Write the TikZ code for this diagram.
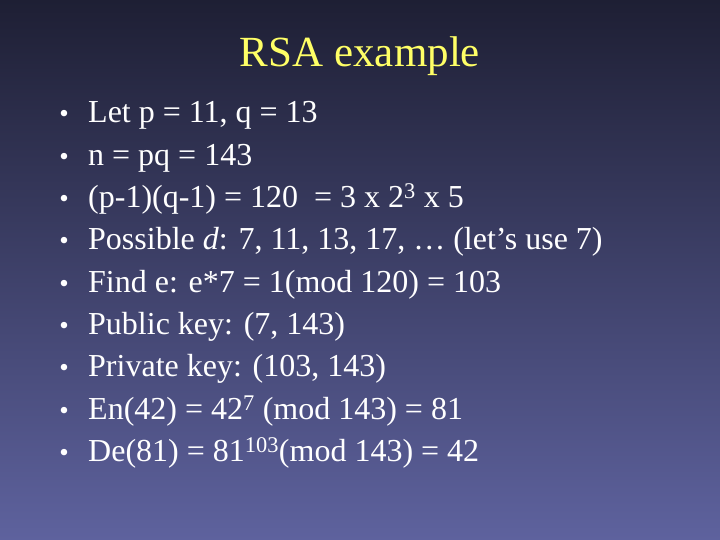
\documentclass[tikz,border=0pt]{standalone}
\usepackage{fontspec}
\setmainfont{Liberation Serif}
\begin{document}
\begin{tikzpicture}[x=1pt,y=-1pt,
  item/.style={anchor=base west,text=white,font=\fontsize{32}{34}\selectfont,inner sep=0pt},
  dot/.style={anchor=base,text=white,font=\fontsize{27}{30}\selectfont,inner sep=0pt}]
\shade[top color={rgb,255:red,30;green,31;blue,52},bottom color={rgb,255:red,94;green,98;blue,158}] (0,0) rectangle (720,540);
\useasboundingbox (0,0) rectangle (720,540);
\node[anchor=base,text={rgb,255:red,255;green,255;blue,102},font=\fontsize{43}{45}\selectfont,inner sep=0pt] (title) at (360,67) {RSA example};
\foreach \t [count=\i] in {
 {Let p = 11, q = 13},
 {n = pq = 143},
 {(p-1)(q-1) = 120\ \ = 3 x 2\textsuperscript{3} x 5},
 {Possible \textit{d}: 7, 11, 13, 17, … (let’s use 7)},
 {Find e: e*7 = 1(mod 120) = 103},
 {Public key: (7, 143)},
 {Private key: (103, 143)},
 {En(42) = 42\textsuperscript{7} (mod 143) = 81},
 {De(81) = 81\textsuperscript{103}(mod 143) = 42}}
 {
  \node[dot] (b\i) at (64,{123+42.3*(\i-1)}) {•};
  \node[item] (t\i) at (88,{123+42.3*(\i-1)}) {\t};
 }
\end{tikzpicture}
\end{document}
